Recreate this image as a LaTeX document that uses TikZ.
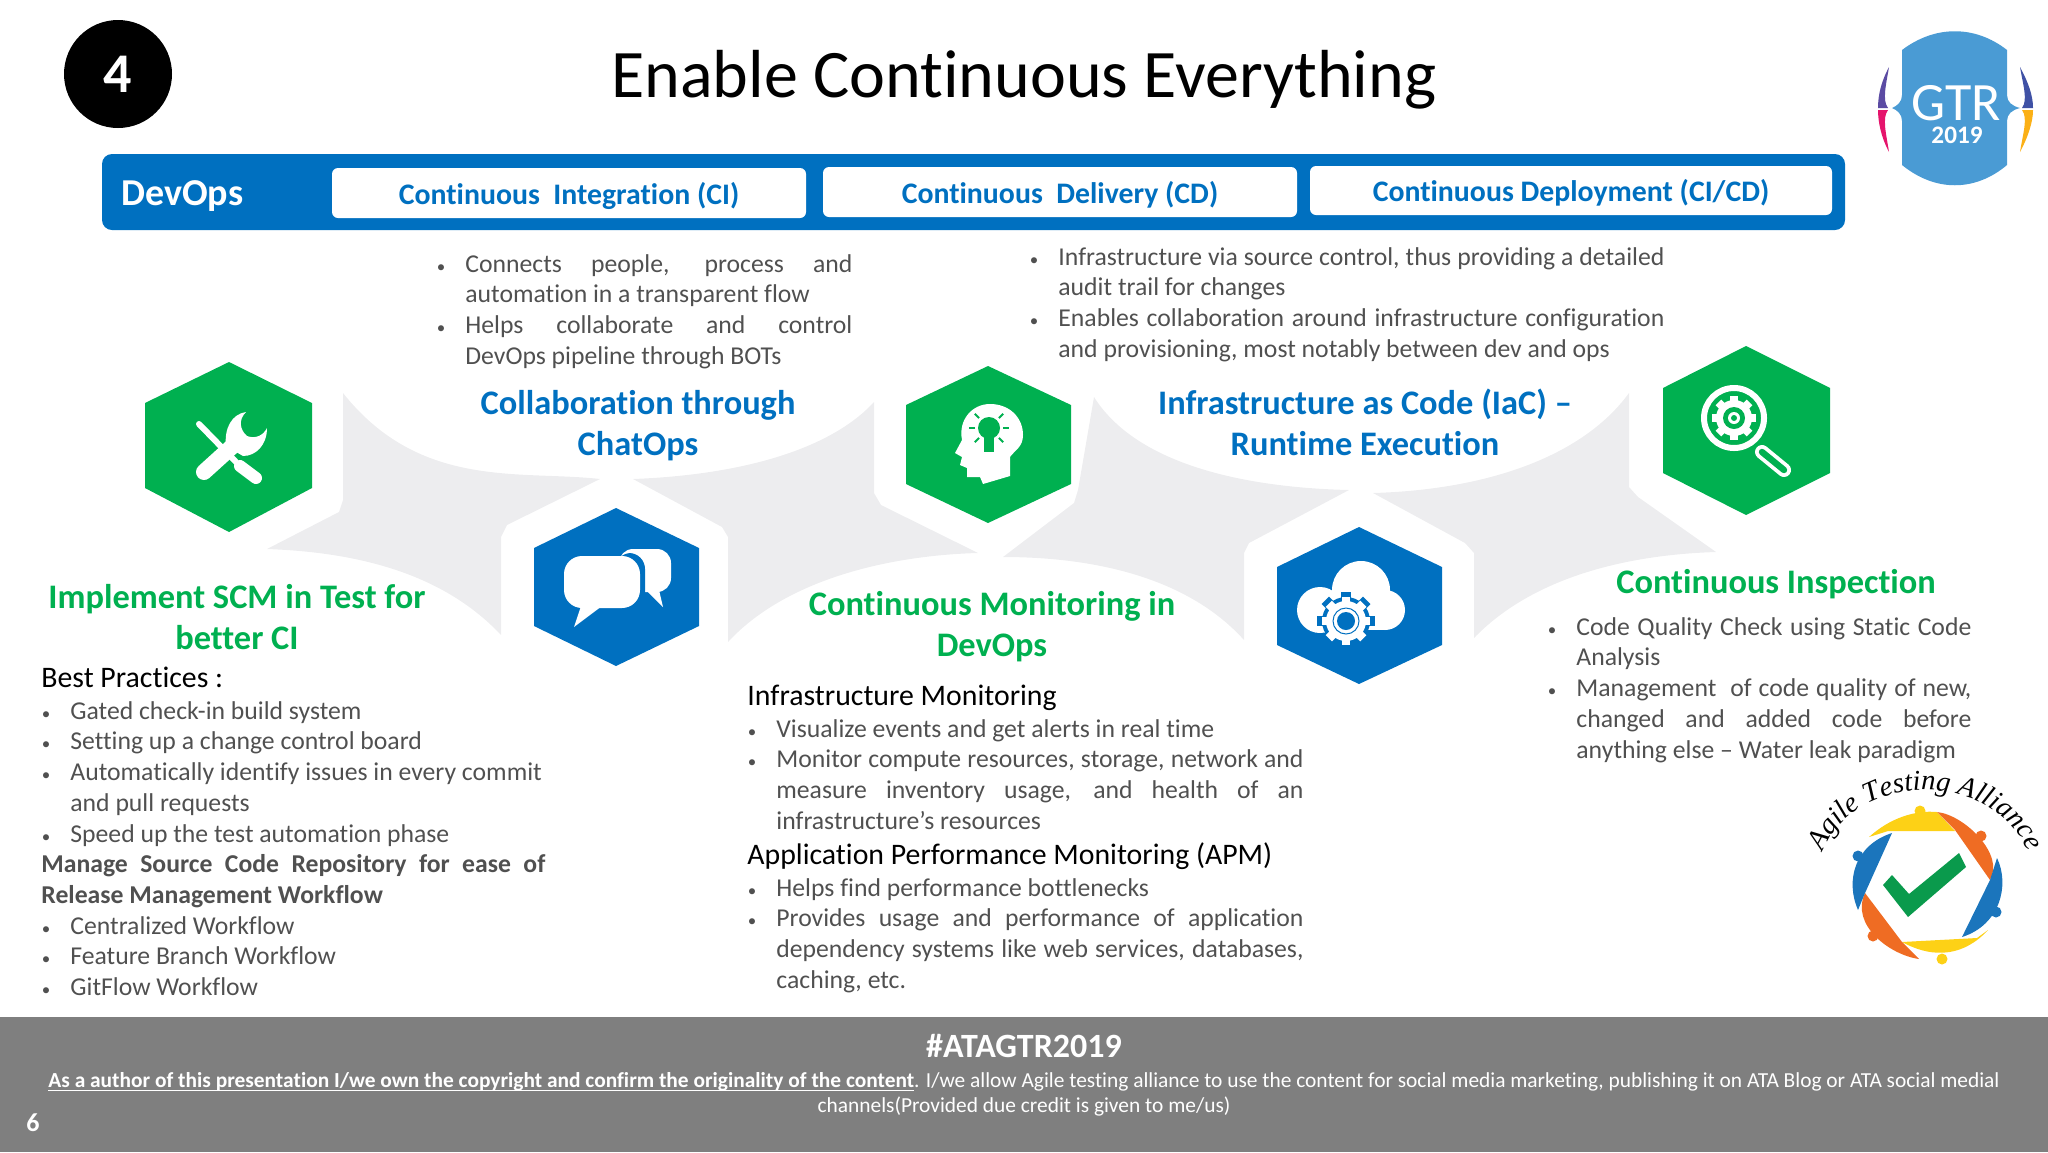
\documentclass[tikz,border=0pt]{standalone}
\usepackage{fontspec}
\usepackage{xcolor}
\usepackage{tikz}
\usetikzlibrary{decorations.text}
\setmainfont{Carlito}[Ligatures=NoCommon]
\newfontfamily\atafont{Liberation Serif}
\definecolor{atagreen}{HTML}{00B050}
\definecolor{atablue}{HTML}{0070C0}
\definecolor{bandgrey}{HTML}{EDEDEF}
\definecolor{bodygrey}{HTML}{505050}
\definecolor{footgrey}{HTML}{7F7F7F}
\definecolor{gtrblue}{HTML}{4A9BD4}
\definecolor{bracepurple}{HTML}{5B4BA3}
\definecolor{bracepink}{HTML}{E5146C}
\definecolor{braceindigo}{HTML}{3F51A5}
\definecolor{braceamber}{HTML}{FBB016}
\definecolor{logoyellow}{HTML}{FDD116}
\definecolor{logoorange}{HTML}{EF6C23}
\definecolor{logoblue}{HTML}{1B75BC}
\definecolor{logocheck}{HTML}{0A9A4C}
\newcommand{\jl}[2]{\makebox[#1][s]{#2}}
\newcommand{\bl}{\llap{{\fontsize{8.5}{8.5}\selectfont •}\hspace{10pt}}}
% gear: centre, radius, colour of the teeth
\newcommand{\gearat}[4]{%
  \foreach \a in {0,45,...,315}
    \fill[#4,rotate around={\a:(#1,#2)}] (#1-#3*0.22,#2) rectangle (#1+#3*0.22,#2-#3*1.22);
  \fill[#4] (#1,#2) circle[radius=#3];
}
\tikzset{
  bodytxt/.style={anchor=north west, inner sep=0pt, align=left, text=bodygrey, font=\fontsize{12.85}{15.35}\selectfont},
  subtxt/.style={bodytxt, text=black, font=\fontsize{14.9}{17}\selectfont},
  headtxt/.style={anchor=center, inner sep=0pt, align=center, font=\fontsize{17.2}{20.5}\selectfont\bfseries},
  tabbox/.style={fill=white, rounded corners=3pt},
  tabtxt/.style={anchor=center, inner sep=0pt, text=atablue, font=\fontsize{14.9}{18}\selectfont\bfseries},
  greenhex/.style={fill=atagreen},
  bluehex/.style={fill=atablue},
  bandpiece/.style={fill=bandgrey},
  footline/.style={anchor=center, inner sep=0pt, text=white, font=\fontsize{10.7}{12}\selectfont},
}
\begin{document}
\begin{tikzpicture}[x=0.5pt,y=-0.5pt]
\useasboundingbox (0,0) rectangle (2048,1152);
% grey band behind the hexagons
\fill[bandpiece] (343,393) .. controls (420,490) and (520,470) .. (600,479) -- (507,525) -- (501,537) -- (501,635) .. controls (440,570) and (350,552) .. (267,549) -- (339,512) -- (343,500) -- cycle;
\fill[bandpiece] (633,479) .. controls (740,475) and (830,450) .. (874,402) -- (874,493) -- (881,505) -- (978,553) .. controls (900,555) and (790,575) .. (728,642) -- (728,537) -- (722,527) -- cycle;
\fill[bandpiece] (1094,397) .. controls (1140,470) and (1260,488) .. (1349,490) -- (1249,543) -- (1244,553) -- (1244,640) .. controls (1190,580) and (1100,557) .. (1003,557) -- (1074,503) -- (1078,490) -- cycle;
\fill[bandpiece] (1373,493) .. controls (1480,490) and (1580,460) .. (1629,393) -- (1629,487) -- (1638,497) -- (1716,552) .. controls (1620,555) and (1530,580) .. (1474,638) -- (1474,553) -- (1465,543) -- cycle;
% hexagons
\fill[greenhex] (229,362) -- (312,403) -- (312,488) -- (229,532) -- (145,488) -- (145,403) -- cycle;
\fill[bluehex] (616,508) -- (699,548) -- (699,626) -- (616,666) -- (534,626) -- (534,548) -- cycle;
\fill[greenhex] (988,366) -- (1071,405) -- (1071,484) -- (988,523) -- (906,484) -- (906,405) -- cycle;
\fill[bluehex] (1359,527) -- (1442,567) -- (1442,645) -- (1359,684) -- (1277,645) -- (1277,567) -- cycle;
\fill[greenhex] (1746,346) -- (1830,388) -- (1830,473) -- (1746,515) -- (1663,473) -- (1663,388) -- cycle;
% tools icon
\draw[white,line width=3pt,line cap=round] (199,424) -- (236,462);
\draw[white,line width=6pt,line cap=round] (240,466) -- (256,478);
\draw[white,line width=8pt,line cap=round] (204,472) -- (236,443);
\fill[white] (246,412) .. controls (232,414) and (224,428) .. (226,446) -- (243,456) .. controls (256,456) and (267,445) .. (267,428) .. controls (263,436) and (255,439) .. (247,436) .. controls (240,430) and (238,420) .. (246,412) -- cycle;
% chat icon
\fill[white,rounded corners=7pt] (619,549) -- (671,549) -- (671,592) -- (619,592) -- cycle;
\fill[white] (646,590) -- (663,607) -- (659,590) -- cycle;
\fill[atablue,rounded corners=8pt] (615,553) -- (645,553) -- (645,612) -- (615,612) -- cycle;
\fill[white,rounded corners=9pt] (564,556) -- (640,556) -- (640,608) -- (564,608) -- cycle;
\fill[white] (581,606) -- (574,627) -- (602,606) -- cycle;
% head icon
\fill[white] (990,404) .. controls (1010,404) and (1023,418) .. (1023,435) .. controls (1023,447) and (1015,450) .. (1010,457) -- (1010,476) -- (983,484) -- (980,477) -- (967,477) -- (967,468) -- (960,465) -- (962,457) -- (955,453) -- (962,440) .. controls (958,420) and (972,404) .. (990,404) -- cycle;
\fill[atagreen] (989,428) circle[radius=11];
\fill[atagreen] (984,436) rectangle (994,452);
\foreach \a in {0,45,135,180,225,270,315}
  \draw[atagreen,line width=1pt,rotate around={\a:(989,428)}] (1003,428) -- (1009,428);
% cloud icon
\fill[white] (1320,610) circle[radius=23];
\fill[white] (1361,590) circle[radius=29];
\fill[white] (1385,610) circle[radius=20];
\fill[white] (1320,600) rectangle (1385,630);
\gearat{1346}{621}{24}{atablue}
\gearat{1346}{621}{20}{white}
\fill[atablue] (1346,621) circle[radius=9];
\draw[atablue,line width=0.5pt] (1346,621) circle[radius=13];
% inspect icon
\draw[white,line width=3pt] (1734,418) circle[radius=30];
\gearat{1734}{418}{18}{white}
\fill[atagreen] (1734,418) circle[radius=11];
\fill[white] (1734,418) circle[radius=6];
\fill[atagreen] (1734,418) circle[radius=3];
\draw[white,line width=7pt,line cap=round] (1762,452) -- (1784,470);
\draw[atagreen,line width=3.2pt,line cap=round] (1762,452) -- (1784,470);
% title
\node[circle,fill=black,minimum size=54pt,inner sep=0pt,text=white,font=\fontsize{28}{30}\selectfont\bfseries] (num) at (118,74) {4};
\node[inner sep=0pt,font=\fontsize{34}{40}\selectfont] (title) at (1024,80) {Enable Continuous Everything};
% header band
\fill[atablue,rounded corners=5pt] (102,154) rectangle (1845,230);
\node[anchor=west,inner sep=0pt,text=white,font=\fontsize{19}{21}\selectfont\bfseries] (devops) at (121,196) {DevOps};
\fill[tabbox] (332,168) rectangle (806,218);
\fill[tabbox] (823,167) rectangle (1297,217);
\fill[tabbox] (1310,166) rectangle (1832,215);
\node[tabtxt] (ci) at (569,196) {Continuous\ \ Integration (CI)};
\node[tabtxt] (cd) at (1060,195) {Continuous\ \ Delivery (CD)};
\node[tabtxt] (cicd) at (1571,193) {Continuous Deployment (CI/CD)};
% headings
\node[headtxt,text=atagreen] (scm) at (237,617) {Implement SCM in Test for\\better CI};
\node[headtxt,text=atablue] (chatops) at (638,426) {Collaboration through\\ChatOps};
\node[headtxt,text=atagreen] (monitor) at (992,627) {Continuous Monitoring in\\DevOps};
\node[headtxt,text=atablue] (iac) at (1365,422) {Infrastructure as Code (IaC) --\\Runtime Execution};
\node[headtxt,text=atagreen] (inspect) at (1776,584) {Continuous Inspection};
% texts
\node[bodytxt] (chatopstxt) at (465,254) {\bl\jl{193.5pt}{Connects people, process and}\\automation in a transparent flow\\\bl\jl{193.5pt}{Helps collaborate and control}\\DevOps pipeline through BOTs};
\node[bodytxt] (iactxt) at (1058,247) {\bl\jl{303pt}{Infrastructure via source control, thus providing a detailed}\\audit trail for changes\\\bl\jl{303pt}{Enables collaboration around infrastructure configuration}\\and provisioning, most notably between dev and ops};
\node[subtxt] (besthead) at (41,667) {Best Practices :};
\node[bodytxt] (besttxt) at (70,701) {\bl Gated check-in build system\\\bl Setting up a change control board\\\bl Automatically identify issues in every commit\\and pull requests\\\bl Speed up the test automation phase\\\hspace{-14.5pt}\textbf{\jl{252pt}{Manage Source Code Repository for ease of}}\\\hspace{-14.5pt}\textbf{Release Management Workflow}\\\bl Centralized Workflow\\\bl Feature Branch Workflow\\\bl GitFlow Workflow};
\node[subtxt] (infrahead) at (747,685) {Infrastructure Monitoring};
\node[bodytxt] (infratxt) at (776,719) {\bl Visualize events and get alerts in real time\\\bl\jl{263.5pt}{Monitor compute resources, storage, network and}\\\jl{263.5pt}{measure inventory usage, and health of an}\\infrastructure's resources};
\node[subtxt] (apmhead) at (747,842) {Application Performance Monitoring (APM)};
\node[bodytxt] (apmtxt) at (776,878) {\bl Helps find performance bottlenecks\\\bl\jl{263.5pt}{Provides usage and performance of application}\\\jl{263.5pt}{dependency systems like web services, databases,}\\caching, etc.};
\node[bodytxt] (inspecttxt) at (1576,617) {\bl\jl{197.5pt}{Code Quality Check using Static Code}\\Analysis\\\bl\jl{197.5pt}{Management\ \ of code quality of new,}\\\jl{197.5pt}{changed and added code before}\\anything else -- Water leak paradigm};
% GTR logo
\fill[gtrblue] (1902,50) .. controls (1935,25) and (1975,25) .. (2007,50) -- (2007,95) .. controls (2007,102) and (2012,106) .. (2020,108) .. controls (2012,110) and (2007,114) .. (2007,121) -- (2007,165) .. controls (1975,192) and (1935,192) .. (1902,165) -- (1902,121) .. controls (1902,114) and (1897,110) .. (1892,108) .. controls (1897,106) and (1902,102) .. (1902,95) -- cycle;
\fill[bracepurple] (1889,67) .. controls (1881,82) and (1878,95) .. (1878,108) -- (1888,108) .. controls (1882,100) and (1886,85) .. (1889,67) -- cycle;
\fill[bracepink] (1889,152) .. controls (1881,137) and (1878,122) .. (1878,110) -- (1888,110) .. controls (1882,118) and (1886,133) .. (1889,152) -- cycle;
\fill[braceindigo] (2020,67) .. controls (2028,82) and (2033,95) .. (2033,108) -- (2022,108) .. controls (2028,100) and (2023,85) .. (2020,67) -- cycle;
\fill[braceamber] (2020,152) .. controls (2028,137) and (2033,122) .. (2033,110) -- (2022,110) .. controls (2028,118) and (2023,133) .. (2020,152) -- cycle;
\node[inner sep=0pt,text=white,font=\fontsize{27}{28}\selectfont] (gtr) at (1956,103) {GTR};
\node[inner sep=0pt,text=white,font=\fontsize{12.6}{14}\selectfont\bfseries] (gtryear) at (1957,135) {2019};
% alliance logo
\fill[logoyellow] (1869,837) .. controls (1890,818) and (1915,810) .. (1937,812) -- (1955,831) -- (1888,831) -- cycle;
\fill[logoorange] (1937,812) .. controls (1965,815) and (2005,855) .. (1990,880) -- (1955,830) -- cycle;
\fill[logoblue] (1997,858) .. controls (2010,885) and (2000,925) .. (1962,937) -- (1990,880) -- cycle;
\fill[logoyellow] (1988,930) .. controls (1965,955) and (1935,960) .. (1902,942) -- (1977,938) -- cycle;
\fill[logoorange] (1919,959) .. controls (1890,955) and (1850,925) .. (1865,893) -- (1902,942) -- cycle;
\fill[logoblue] (1858,910) .. controls (1845,880) and (1855,845) .. (1892,833) -- (1865,893) -- cycle;
\fill[logoyellow] (1920,811) circle[radius=5.5];
\fill[logoyellow] (1942,959) circle[radius=5.5];
\fill[logoorange] (1981,836) circle[radius=5.5];
\fill[logoorange] (1873,936) circle[radius=5.5];
\fill[logoblue] (1858,856) circle[radius=5.5];
\fill[logoblue] (1996,912) circle[radius=5.5];
\fill[logocheck] (1883,885) -- (1892,875) -- (1909,894) -- (1959,853) -- (1966,867) -- (1908,917) -- cycle;
\path[decorate,decoration={text along path,text align=center,text={|\atafont\itshape\fontsize{14.3}{15}\selectfont|Agile Testing Alliance}}] (1815,892) .. controls (1815,756) and (2035,756) .. (2035,892);
% footer
\fill[footgrey] (0,1017) rectangle (2048,1152);
\node[footline,font=\fontsize{17}{19}\selectfont\bfseries] (tag) at (1024,1046) {\#ATAGTR2019};
\node[footline] (owner) at (1024,1082) {\textbf{\underline{\smash{As a author of this presentation I/we own the copyright and confirm the originality of the content}}}. I/we allow Agile testing alliance to use the content for social media marketing, publishing it on ATA Blog or ATA social medial};
\node[footline] (owner2) at (1024,1106) {channels(Provided due credit is given to me/us)};
\node[footline,font=\fontsize{13}{14}\selectfont\bfseries] (page) at (33,1123) {6};
\end{tikzpicture}
\end{document}
